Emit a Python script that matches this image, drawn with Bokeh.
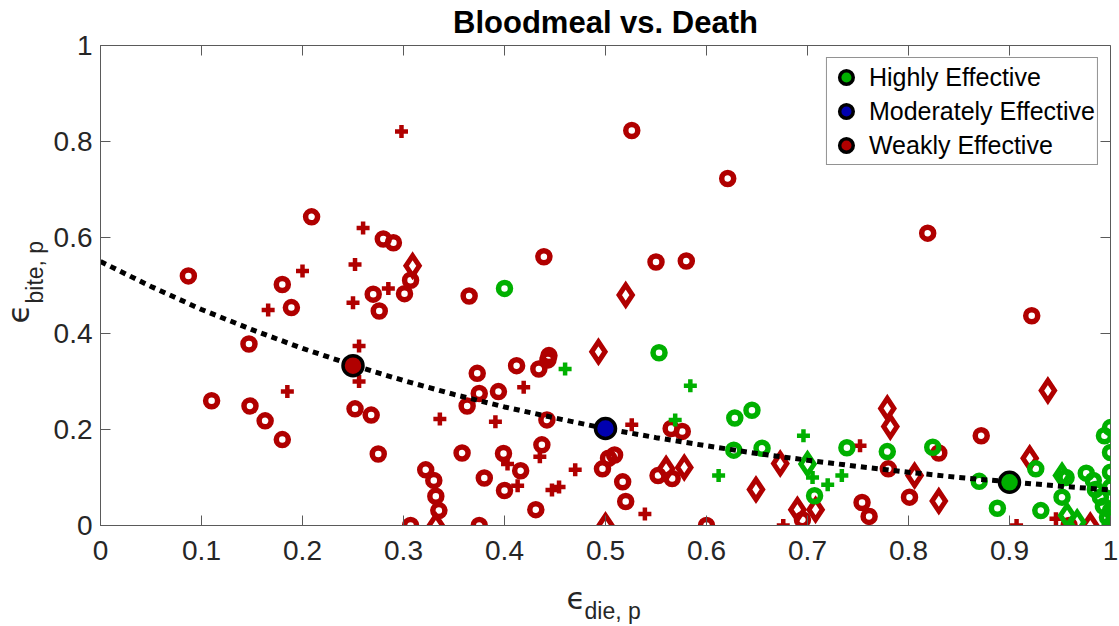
import math
from bokeh.plotting import figure
from bokeh.models import Range1d, FixedTicker, Label, Legend, LegendItem
from bokeh.layouts import row, column
from bokeh.embed import file_html
from bokeh.resources import INLINE

RED = "#B00000"
GREEN = "#00B000"
BLUE = "#0000B0"
AX = "#5a5a5a"
TXT = "#262626"
FONT = "Liberation Sans"

# ---------------- data ----------------
x_ticks = [0, 0.1, 0.2, 0.3, 0.4, 0.5, 0.6, 0.7, 0.8, 0.9, 1]
x_tick_labels = ["0", "0.1", "0.2", "0.3", "0.4", "0.5", "0.6", "0.7", "0.8", "0.9", "1"]
y_ticks = [0, 0.2, 0.4, 0.6, 0.8, 1]
y_tick_labels = ["0", "0.2", "0.4", "0.6", "0.8", "1"]

red_circle_x = [0.087, 0.209, 0.280, 0.290, 0.180, 0.307, 0.189, 0.270, 0.301, 0.276, 0.147,
                0.110, 0.148, 0.163, 0.180, 0.252, 0.268, 0.275, 0.322, 0.330, 0.332, 0.335, 0.307,
                0.526, 0.365, 0.439, 0.550, 0.580, 0.621, 0.819, 0.922, 0.872,
                0.373, 0.412, 0.434, 0.444, 0.443, 0.375, 0.394, 0.363, 0.442, 0.565, 0.576,
                0.358, 0.399, 0.416, 0.437, 0.380, 0.400, 0.431, 0.375, 0.600,
                0.497, 0.503, 0.509, 0.517, 0.520, 0.552, 0.566,
                0.780, 0.754, 0.761, 0.801, 0.830, 0.695, 0.959]
red_circle_y = [0.520, 0.643, 0.597, 0.589, 0.502, 0.511, 0.454, 0.482, 0.483, 0.447, 0.378,
                0.260, 0.249, 0.218, 0.179, 0.243, 0.230, 0.149, 0.116, 0.094, 0.061, 0.031, 0.000,
                0.823, 0.478, 0.560, 0.549, 0.551, 0.723, 0.609, 0.437, 0.187,
                0.317, 0.333, 0.326, 0.354, 0.345, 0.275, 0.279, 0.249, 0.220, 0.202, 0.196,
                0.151, 0.150, 0.114, 0.168, 0.099, 0.073, 0.033, 0.000, 0.000,
                0.118, 0.140, 0.147, 0.091, 0.050, 0.104, 0.098,
                0.118, 0.048, 0.019, 0.059, 0.151, 0.012, 0.000]

red_plus_x = [0.260, 0.200, 0.252, 0.166, 0.250, 0.285, 0.256, 0.256, 0.185, 0.336, 0.298,
              0.419, 0.391, 0.526, 0.403, 0.435, 0.470, 0.413, 0.447, 0.454, 0.539,
              0.752, 0.676, 0.907, 0.946]
red_plus_y = [0.620, 0.530, 0.544, 0.449, 0.464, 0.494, 0.374, 0.300, 0.279, 0.222, 0.821,
              0.288, 0.216, 0.210, 0.128, 0.143, 0.116, 0.083, 0.074, 0.080, 0.024,
              0.166, 0.000, 0.000, 0.014]

red_diamond_x = [0.309, 0.332, 0.520, 0.493, 0.500, 0.560, 0.578, 0.649, 0.673, 0.779, 0.782,
                 0.690, 0.708, 0.806, 0.830, 0.920, 0.938, 0.980]
red_diamond_y = [0.541, 0.000, 0.480, 0.362, 0.000, 0.118, 0.121, 0.075, 0.129, 0.244, 0.206,
                 0.033, 0.033, 0.104, 0.051, 0.140, 0.281, 0.000]

green_circle_x = [0.400, 0.553, 0.628, 0.645, 0.627, 0.655, 0.739, 0.779, 0.824, 0.707, 0.870,
                  0.926, 0.888, 0.931, 0.956, 0.976, 0.952, 0.994, 1.000, 1.000, 1.000, 1.000,
                  1.000, 0.990, 0.983, 0.997, 1.000, 0.985, 0.993]
green_circle_y = [0.494, 0.360, 0.224, 0.240, 0.157, 0.161, 0.162, 0.154, 0.163, 0.062, 0.092,
                  0.118, 0.036, 0.031, 0.100, 0.109, 0.059, 0.187, 0.204, 0.152, 0.111, 0.080,
                  0.031, 0.059, 0.094, 0.017, 0.000, 0.075, 0.040]

green_plus_x = [0.460, 0.584, 0.569, 0.612, 0.696, 0.705, 0.720, 0.734]
green_plus_y = [0.326, 0.291, 0.220, 0.104, 0.187, 0.100, 0.085, 0.104]

green_diamond_x = [0.700, 0.952, 0.957, 0.967, 1.000]
green_diamond_y = [0.128, 0.104, 0.021, 0.007, 0.000]

curve_x = [0.0, 0.05, 0.1, 0.15, 0.2, 0.25, 0.3, 0.35, 0.4, 0.45, 0.5,
           0.55, 0.6, 0.65, 0.7, 0.75, 0.8, 0.85, 0.9, 0.95, 1.0]
curve_y = [0.550, 0.498, 0.450, 0.408, 0.369, 0.334, 0.302, 0.273, 0.247, 0.224, 0.202,
           0.183, 0.166, 0.150, 0.136, 0.123, 0.111, 0.100, 0.091, 0.082, 0.074]

highlight_labels = ["Highly Effective", "Moderately Effective", "Weakly Effective"]
highlight_x = [0.90, 0.50, 0.25]
highlight_y = [0.090, 0.202, 0.333]
highlight_colors = [GREEN, BLUE, RED]


def strip(width, height, xr, yr, **borders):
    f = figure(width=width, height=height, x_range=xr, y_range=yr,
               x_axis_type=None, y_axis_type=None, output_backend="svg",
               toolbar_location=None, title_location=None,
               border_fill_color="white", background_fill_color="white", **borders)
    f.outline_line_color = None
    return f


# ---------------- main figure ----------------
p = figure(width=1069, height=576, x_range=Range1d(0, 1), y_range=Range1d(0, 1),
           output_backend="svg", toolbar_location=None,
           min_border_left=48, min_border_right=9, min_border_top=44, min_border_bottom=51,
           background_fill_color="white", border_fill_color="white")
p.outline_line_color = AX
p.outline_line_width = 1
p.xgrid.visible = False
p.ygrid.visible = False

p.title.text = "Bloodmeal vs. Death"
p.title.align = "center"
p.title.vertical_align = "top"
p.title.text_font = FONT
p.title.text_font_size = "31px"
p.title.text_font_style = "bold"
p.title.text_color = "black"
p.title.standoff = 8


def style_axis(ax, ticks, labels, standoff):
    ax.ticker = FixedTicker(ticks=ticks)
    ax.major_label_overrides = {t: l for t, l in zip(ticks, labels)}
    ax.axis_line_color = AX
    ax.axis_line_width = 1
    ax.major_tick_line_color = AX
    ax.major_tick_line_width = 1
    ax.major_tick_in = 10
    ax.major_tick_out = 0
    ax.minor_tick_line_color = None
    ax.major_label_text_font = FONT
    ax.major_label_text_color = TXT
    ax.major_label_text_font_size = "28px"
    ax.major_label_standoff = standoff


style_axis(p.xaxis[0], x_ticks, x_tick_labels, 15)
style_axis(p.yaxis[0], y_ticks, y_tick_labels, 8)

# mirrored inward ticks on the top and right edges (half of each dash is clipped by the frame)
p.scatter(x_ticks, [1] * len(x_ticks), marker="dash", angle=math.pi / 2, size=20,
          line_color=AX, line_width=1)
p.scatter([1] * len(y_ticks), y_ticks, marker="dash", size=20, line_color=AX, line_width=1)

# ---------------- markers ----------------
p.scatter(red_circle_x, red_circle_y, marker="circle", size=12, fill_color=None,
          line_color=RED, line_width=5.5)
p.scatter(red_plus_x, red_plus_y, marker="cross", size=13, line_color=RED, line_width=4.5)
p.scatter(red_diamond_x, red_diamond_y, marker="diamond", size=20, fill_color=None,
          line_color=RED, line_width=5, line_join="miter")
p.scatter(green_circle_x, green_circle_y, marker="circle", size=12, fill_color=None,
          line_color=GREEN, line_width=5.5)
p.scatter(green_plus_x, green_plus_y, marker="cross", size=13, line_color=GREEN, line_width=4.5)
p.scatter(green_diamond_x, green_diamond_y, marker="diamond", size=20, fill_color=None,
          line_color=GREEN, line_width=5, line_join="miter")

p.line(curve_x, curve_y, line_color="black", line_width=5, line_dash="6 5")

big = []
for hx, hy, hc in zip(highlight_x, highlight_y, highlight_colors):
    r = p.scatter([hx], [hy], marker="circle", size=20, fill_color=hc,
                  line_color="black", line_width=3.5)
    big.append(r)

legend = Legend(items=[LegendItem(label=lab, renderers=[r]) for lab, r in zip(highlight_labels, big)],
                location="top_right", margin=12, padding=2, spacing=0,
                glyph_width=34, glyph_height=34, label_standoff=6,
                label_text_font=FONT, label_text_font_size="25px", label_text_color="black",
                border_line_color=TXT, border_line_width=1,
                background_fill_color="white", background_fill_alpha=1.0)
p.add_layout(legend)

# ---------------- axis-title strips (epsilon with subscript), data units = page pixels ----------------
ylab = strip(50, 626, Range1d(0, 50), Range1d(525, 44),
             min_border_left=0, min_border_right=0, min_border_top=44, min_border_bottom=101)
ylab.add_layout(Label(x=17, y=323, text="ϵ", angle=math.pi / 2,
                      text_font="DejaVu Sans", text_font_size="31px", text_color=TXT,
                      text_align="left", text_baseline="alphabetic"))
ylab.add_layout(Label(x=34, y=303, text="bite, p", angle=math.pi / 2,
                      text_font=FONT, text_font_size="23px", text_color=TXT,
                      text_align="left", text_baseline="alphabetic"))

xlab = strip(1069, 50, Range1d(98, 1110), Range1d(626, 576),
             min_border_left=48, min_border_right=9, min_border_top=0, min_border_bottom=0)
xlab.add_layout(Label(x=565, y=597, text="ϵ",
                      text_font="DejaVu Sans", text_font_size="31px", text_color=TXT,
                      text_align="left", text_baseline="alphabetic"))
xlab.add_layout(Label(x=583, y=610, text="die, p",
                      text_font=FONT, text_font_size="23px", text_color=TXT,
                      text_align="left", text_baseline="alphabetic"))

layout = row(ylab, column(p, xlab, spacing=0), spacing=0)

open("out.html", "w").write(file_html(layout, INLINE))
